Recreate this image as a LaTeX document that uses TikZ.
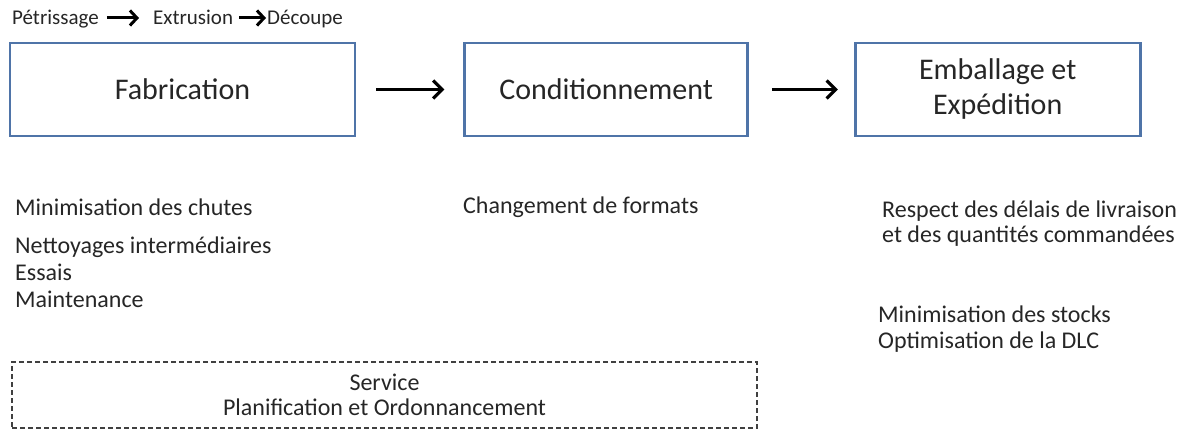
\documentclass[tikz,border=0pt]{standalone}
\usepackage{fontspec}
\setmainfont{Carlito}
\usepackage{xcolor}
\usetikzlibrary{arrows.meta,positioning}
\definecolor{boxblue}{HTML}{4F74A8}

\begin{document}
\begin{tikzpicture}[
    x=1pt,y=-1pt,
    node distance=107pt,
    stage/.style={rectangle,draw=boxblue,line width=2.6pt,fill=white,minimum width=345pt,minimum height=93pt,font=\fontsize{30}{35}\selectfont,align=center,text=black!85},
    note/.style={font=\fontsize{24}{27}\selectfont,align=left,anchor=west,inner sep=0pt,text=black!85},
    phase/.style={font=\fontsize{21}{22}\selectfont,anchor=base west,inner sep=0pt,text=black!85},
    flow/.style={-{Straight Barb[length=9pt,width=18pt,line width=3.2pt]},line width=3.2pt,black},
    small/.style={-{Straight Barb[length=7pt,width=15pt,line width=3pt]},line width=3pt,black},
    svc/.style={rectangle,draw=black!75,dashed,dash pattern=on 5pt off 3pt,line width=1.3pt,font=\fontsize{24}{25}\selectfont,align=center,text=black!85},
]
\useasboundingbox (0,0) rectangle (1188,430);

% process steps
\node[phase] (petri) at (12,25) {Pétrissage};
\node[phase] (extru) at (153,25) {Extrusion};
\node[phase] (decou) at (267,25) {Découpe};
\draw[small] ([xshift=8pt,yshift=7pt]petri.base east) -- ([xshift=-14pt,yshift=7pt]extru.base west);
\draw[small] ([xshift=6pt,yshift=7pt]extru.base east) -- ([xshift=-1pt,yshift=7pt]decou.base west);

% main chain
\node[stage] (fab) at (182.5,89.5) {Fabrication};
\node[stage,minimum width=283pt,right=of fab] (cond) {Conditionnement};
\node[stage,minimum width=285pt,right=105pt of cond] (emb) {Emballage et\\Expédition};

\draw[flow] ([xshift=20pt]fab.east) -- ([xshift=-19pt]cond.west);
\draw[flow] ([xshift=23pt]cond.east) -- ([xshift=-16pt]emb.west);

% constraints
\node[note] (chutes) at (15,207) {Minimisation des chutes};
\node[note,below=21pt of chutes.south west,anchor=north west] (nett) {Nettoyages intermédiaires\\Essais\\Maintenance};
\node[note] (formats) at (463,207) {Changement de formats};
\node[note,font=\fontsize{24}{25}\selectfont] (delais) at (882,224) {Respect des délais de livraison\\et des quantités commandées};
\node[note,font=\fontsize{24}{26}\selectfont] (stocks) at (878,329) {Minimisation des stocks\\Optimisation de la DLC};

% service
\node[svc,minimum width=745pt,minimum height=66pt] (service) at (384.5,395) {Service\\Planification et Ordonnancement};
\end{tikzpicture}
\end{document}
